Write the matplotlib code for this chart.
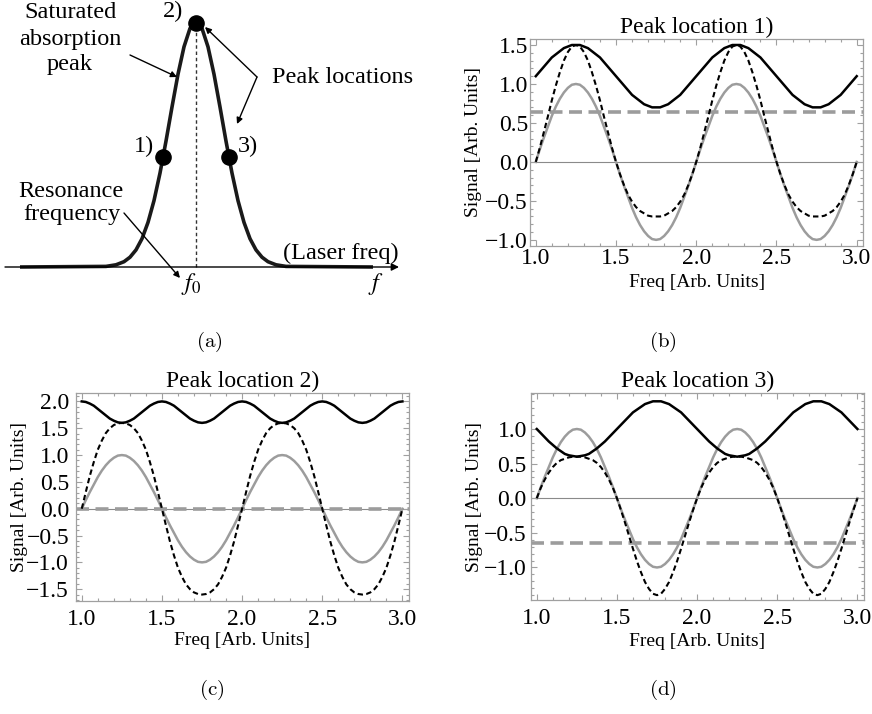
import matplotlib
matplotlib.use('Agg')
import matplotlib.pyplot as plt
from matplotlib.ticker import MultipleLocator, FixedLocator, FuncFormatter

plt.rcParams['font.family'] = ['Liberation Serif', 'DejaVu Serif']
plt.rcParams['mathtext.fontset'] = 'stix'

# ---------------- data ----------------
freq = [1.0, 1.025, 1.05, 1.075, 1.1, 1.125, 1.15, 1.175, 1.2, 1.225,
        1.25, 1.275, 1.3, 1.325, 1.35, 1.375, 1.4, 1.425, 1.45, 1.475,
        1.5, 1.525, 1.55, 1.575, 1.6, 1.625, 1.65, 1.675, 1.7, 1.725,
        1.75, 1.775, 1.8, 1.825, 1.85, 1.875, 1.9, 1.925, 1.95, 1.975,
        2.0, 2.025, 2.05, 2.075, 2.1, 2.125, 2.15, 2.175, 2.2, 2.225,
        2.25, 2.275, 2.3, 2.325, 2.35, 2.375, 2.4, 2.425, 2.45, 2.475,
        2.5, 2.525, 2.55, 2.575, 2.6, 2.625, 2.65, 2.675, 2.7, 2.725,
        2.75, 2.775, 2.8, 2.825, 2.85, 2.875, 2.9, 2.925, 2.95, 2.975, 3.0]

reference = [0.00, 0.16, 0.31, 0.45, 0.59, 0.71, 0.81, 0.89, 0.95, 0.99, 1.00,
             0.99, 0.95, 0.89, 0.81, 0.71, 0.59, 0.45, 0.31, 0.16, 0.00,
             -0.16, -0.31, -0.45, -0.59, -0.71, -0.81, -0.89, -0.95, -0.99, -1.00,
             -0.99, -0.95, -0.89, -0.81, -0.71, -0.59, -0.45, -0.31, -0.16, 0.00,
             0.16, 0.31, 0.45, 0.59, 0.71, 0.81, 0.89, 0.95, 0.99, 1.00,
             0.99, 0.95, 0.89, 0.81, 0.71, 0.59, 0.45, 0.31, 0.16, 0.00,
             -0.16, -0.31, -0.45, -0.59, -0.71, -0.81, -0.89, -0.95, -0.99, -1.00,
             -0.99, -0.95, -0.89, -0.81, -0.71, -0.59, -0.45, -0.31, -0.16, 0.00]

env_1 = [1.10, 1.16, 1.22, 1.28, 1.34, 1.38, 1.42, 1.46, 1.48, 1.50, 1.50,
         1.50, 1.48, 1.46, 1.42, 1.38, 1.34, 1.28, 1.22, 1.16, 1.10,
         1.04, 0.98, 0.92, 0.86, 0.82, 0.78, 0.74, 0.72, 0.70, 0.70,
         0.70, 0.72, 0.74, 0.78, 0.82, 0.86, 0.92, 0.98, 1.04, 1.10,
         1.16, 1.22, 1.28, 1.34, 1.38, 1.42, 1.46, 1.48, 1.50, 1.50,
         1.50, 1.48, 1.46, 1.42, 1.38, 1.34, 1.28, 1.22, 1.16, 1.10,
         1.04, 0.98, 0.92, 0.86, 0.82, 0.78, 0.74, 0.72, 0.70, 0.70,
         0.70, 0.72, 0.74, 0.78, 0.82, 0.86, 0.92, 0.98, 1.04, 1.10]
mod_1 = [0.00, 0.18, 0.38, 0.58, 0.79, 0.98, 1.15, 1.30, 1.41, 1.48, 1.50,
         1.48, 1.41, 1.30, 1.15, 0.98, 0.79, 0.58, 0.38, 0.18, 0.00,
         -0.16, -0.30, -0.42, -0.51, -0.58, -0.63, -0.66, -0.69, -0.70, -0.70,
         -0.70, -0.69, -0.66, -0.63, -0.58, -0.51, -0.42, -0.30, -0.16, 0.00,
         0.18, 0.38, 0.58, 0.79, 0.98, 1.15, 1.30, 1.41, 1.48, 1.50,
         1.48, 1.41, 1.30, 1.15, 0.98, 0.79, 0.58, 0.38, 0.18, 0.00,
         -0.16, -0.30, -0.42, -0.51, -0.58, -0.63, -0.66, -0.69, -0.70, -0.70,
         -0.70, -0.69, -0.66, -0.63, -0.58, -0.51, -0.42, -0.30, -0.16, 0.00]

env_2 = [2.00, 1.99, 1.96, 1.92, 1.86, 1.80, 1.74, 1.68, 1.64, 1.61, 1.60,
         1.61, 1.64, 1.68, 1.74, 1.80, 1.86, 1.92, 1.96, 1.99, 2.00,
         1.99, 1.96, 1.92, 1.86, 1.80, 1.74, 1.68, 1.64, 1.61, 1.60,
         1.61, 1.64, 1.68, 1.74, 1.80, 1.86, 1.92, 1.96, 1.99, 2.00,
         1.99, 1.96, 1.92, 1.86, 1.80, 1.74, 1.68, 1.64, 1.61, 1.60,
         1.61, 1.64, 1.68, 1.74, 1.80, 1.86, 1.92, 1.96, 1.99, 2.00,
         1.99, 1.96, 1.92, 1.86, 1.80, 1.74, 1.68, 1.64, 1.61, 1.60,
         1.61, 1.64, 1.68, 1.74, 1.80, 1.86, 1.92, 1.96, 1.99, 2.00]
mod_2 = [0.00, 0.31, 0.61, 0.87, 1.10, 1.27, 1.41, 1.50, 1.56, 1.59, 1.60,
         1.59, 1.56, 1.50, 1.41, 1.27, 1.10, 0.87, 0.61, 0.31, 0.00,
         -0.31, -0.61, -0.87, -1.10, -1.27, -1.41, -1.50, -1.56, -1.59, -1.60,
         -1.59, -1.56, -1.50, -1.41, -1.27, -1.10, -0.87, -0.61, -0.31, 0.00,
         0.31, 0.61, 0.87, 1.10, 1.27, 1.41, 1.50, 1.56, 1.59, 1.60,
         1.59, 1.56, 1.50, 1.41, 1.27, 1.10, 0.87, 0.61, 0.31, 0.00,
         -0.31, -0.61, -0.87, -1.10, -1.27, -1.41, -1.50, -1.56, -1.59, -1.60,
         -1.59, -1.56, -1.50, -1.41, -1.27, -1.10, -0.87, -0.61, -0.31, 0.00]

env_3 = [1.00, 0.94, 0.88, 0.82, 0.77, 0.72, 0.68, 0.64, 0.62, 0.61, 0.60,
         0.61, 0.62, 0.64, 0.68, 0.72, 0.77, 0.82, 0.88, 0.94, 1.00,
         1.06, 1.12, 1.18, 1.24, 1.28, 1.32, 1.36, 1.38, 1.40, 1.40,
         1.40, 1.38, 1.36, 1.32, 1.28, 1.24, 1.18, 1.12, 1.06, 1.00,
         0.94, 0.88, 0.82, 0.77, 0.72, 0.68, 0.64, 0.62, 0.61, 0.60,
         0.61, 0.62, 0.64, 0.68, 0.72, 0.77, 0.82, 0.88, 0.94, 1.00,
         1.06, 1.12, 1.18, 1.24, 1.28, 1.32, 1.36, 1.38, 1.40, 1.40,
         1.40, 1.38, 1.36, 1.32, 1.28, 1.24, 1.18, 1.12, 1.06, 1.00]
mod_3 = [0.00, 0.15, 0.27, 0.37, 0.45, 0.51, 0.55, 0.57, 0.59, 0.60, 0.60,
         0.60, 0.59, 0.57, 0.55, 0.51, 0.45, 0.37, 0.27, 0.15, 0.00,
         -0.17, -0.35, -0.54, -0.73, -0.91, -1.07, -1.21, -1.31, -1.38, -1.40,
         -1.38, -1.31, -1.21, -1.07, -0.91, -0.73, -0.54, -0.35, -0.17, 0.00,
         0.15, 0.27, 0.37, 0.45, 0.51, 0.55, 0.57, 0.59, 0.60, 0.60,
         0.60, 0.59, 0.57, 0.55, 0.51, 0.45, 0.37, 0.27, 0.15, 0.00,
         -0.17, -0.35, -0.54, -0.73, -0.91, -1.07, -1.21, -1.31, -1.38, -1.40,
         -1.38, -1.31, -1.21, -1.07, -0.91, -0.73, -0.54, -0.35, -0.17, 0.00]

dc_levels = [0.64, 0.00, -0.64]
titles = ['Peak location 1)', 'Peak location 2)', 'Peak location 3)']
captions = ['(a)', '(b)', '(c)', '(d)']
yticks_1 = [-1.0, -0.5, 0.0, 0.5, 1.0, 1.5]
yticks_2 = [-1.5, -1.0, -0.5, 0.0, 0.5, 1.0, 1.5, 2.0]
yticks_3 = [-1.0, -0.5, 0.0, 0.5, 1.0]

# schematic absorption peak (panel a), horizontal position and height
peak_x = [20, 106, 116, 124, 130, 136, 142, 148, 154, 160, 166, 172, 178, 184, 190,
          196, 202, 208, 214, 220, 226, 232, 238, 244, 250, 256, 262, 268, 276, 286, 373]
peak_h = [0, 0.6, 2.2, 5.3, 9.8, 17.1, 28.3, 44.6, 66.4, 93.9, 125.9, 160.0, 192.8, 220.2, 238.6,
          245, 238.6, 220.2, 192.8, 160.0, 125.9, 93.9, 66.4, 44.6, 28.3, 17.1, 9.8, 5.3, 2.2, 0.6, 0]
dot_x = [163, 196, 229]
dot_h = [110, 244, 110]
dot_labels = ['1)', '2)', '3)']

# ---------------- figure ----------------
W, H = 872, 714
fig = plt.figure(figsize=(W / 100, H / 100), dpi=100)


def fr(l, t, r, b):
    return [l / W, 1 - b / H, (r - l) / W, (b - t) / H]


# ---- panel (a)
axa = fig.add_axes([0, 1 - 300 / H, 436 / W, 300 / H])
axa.set_xlim(0, 436)
axa.set_ylim(-33, 267)
axa.axis('off')
BASE = 267  # pixel row of the baseline


def py(p):
    return BASE - p


axa.annotate('', xy=(399, 0), xytext=(5, 0),
             arrowprops=dict(arrowstyle='-|>', lw=1.0, color='k', mutation_scale=11,
                             shrinkA=0, shrinkB=0))
axa.plot([196, 196], [0, 242], color='#333333', lw=1.0, dashes=(2.5, 2.0))
axa.plot(peak_x, peak_h, color='#1a1a1a', lw=2.6, solid_capstyle='butt')
axa.scatter(dot_x, dot_h, s=120, color='k', zorder=5)

fs_a = 17.5
axa.text(70, py(18), 'Saturated', ha='center', va='baseline', fontsize=fs_a)
axa.text(70, py(45), 'absorption', ha='center', va='baseline', fontsize=fs_a)
axa.text(70, py(70), 'peak', ha='center', va='baseline', fontsize=fs_a)
axa.text(173, py(17), dot_labels[1], ha='center', va='baseline', fontsize=fs_a)
axa.text(144, py(152), dot_labels[0], ha='center', va='baseline', fontsize=fs_a)
axa.text(248, py(152), dot_labels[2], ha='center', va='baseline', fontsize=fs_a)
axa.text(272, py(83), 'Peak locations', ha='left', va='baseline', fontsize=fs_a)
axa.text(71, py(197), 'Resonance', ha='center', va='baseline', fontsize=fs_a)
axa.text(72, py(220), 'frequency', ha='center', va='baseline', fontsize=fs_a)
axa.text(341, py(259), '(Laser freq)', ha='center', va='baseline', fontsize=fs_a)
axa.text(191, py(290), r'$f_0$', ha='center', va='baseline', fontsize=fs_a)
axa.text(376, py(290), r'$f$', ha='center', va='baseline', fontsize=fs_a)

arrow_kw = dict(arrowstyle='-|>', lw=1.0, color='k', mutation_scale=9, shrinkA=0, shrinkB=0)
axa.annotate('', xy=(177, py(77)), xytext=(130, py(55)), arrowprops=arrow_kw)
axa.annotate('', xy=(205, py(27)), xytext=(257, py(77)), arrowprops=arrow_kw)
axa.annotate('', xy=(237, py(124)), xytext=(257, py(77)), arrowprops=arrow_kw)
axa.annotate('', xy=(180, py(278)), xytext=(124, py(213)), arrowprops=arrow_kw)

# ---- signal panels
FRAME = '#a0a0a0'
GRAY = '#9c9c9c'


def fmt(v, _):
    if abs(v) < 1e-9:
        return '0.0'
    return f'{v:.1f}'.replace('-', '\u2212')


def signal_panel(rect, env, mod, dc, ylim, yticks, title, xpad, ypad, xlab_y):
    ax = fig.add_axes(rect)
    ax.axhline(0, color='#8a8a8a', lw=0.8, zorder=1)
    ax.axhline(dc, color=GRAY, lw=2.6, dashes=(3.6, 1.8), zorder=2)
    ax.plot(freq, reference, color=GRAY, lw=1.8, zorder=3)
    ax.plot(freq, mod, color='k', lw=1.5, dashes=(2.6, 1.6), zorder=4)
    ax.plot(freq, env, color='k', lw=1.8, zorder=5)
    ax.set_xlim(0.964, 3.041)
    ax.set_ylim(*ylim)
    ax.xaxis.set_major_locator(MultipleLocator(0.5))
    ax.xaxis.set_minor_locator(MultipleLocator(0.1))
    ax.yaxis.set_major_locator(FixedLocator(yticks))
    ax.yaxis.set_minor_locator(MultipleLocator(0.1))
    ax.xaxis.set_major_formatter(FuncFormatter(fmt))
    ax.yaxis.set_major_formatter(FuncFormatter(fmt))
    ax.tick_params(which='both', direction='in', top=True, right=True,
                   color=FRAME, width=0.8, labelsize=17)
    ax.tick_params(axis='x', which='both', pad=xpad)
    ax.tick_params(axis='y', which='both', pad=ypad)
    ax.tick_params(which='major', length=4.5)
    ax.tick_params(which='minor', length=2.3)
    for s in ax.spines.values():
        s.set_color(FRAME)
        s.set_linewidth(0.9)
    ax.set_title(title, fontsize=17, pad=4.5)
    ax.set_xlabel('Freq [Arb. Units]', fontsize=14)
    ax.set_ylabel('Signal [Arb. Units]', fontsize=14)
    ax.xaxis.set_label_coords(0.5, xlab_y)
    ax.yaxis.set_label_coords(-0.145, 0.5)
    return ax


signal_panel(fr(530, 39, 863.3, 245.7), env_1, mod_1, dc_levels[0], (-1.075, 1.577),
             yticks_1, titles[0], 1.5, 1.5, -0.135)
signal_panel(fr(76, 393, 409, 601), env_2, mod_2, dc_levels[1], (-1.72, 2.157),
             yticks_2, titles[1], 6.0, 5.0, -0.15)
signal_panel(fr(531, 393, 864, 600), env_3, mod_3, dc_levels[2], (-1.47, 1.52),
             yticks_3, titles[2], 6.0, 3.0, -0.16)

# captions
cap_pos = [(209, 342), (663, 342), (212, 690), (663, 690)]
for (cx, cy), c in zip(cap_pos, captions):
    fig.text(cx / W, 1 - cy / H, r'$\mathrm{' + c + '}$', ha='center', va='center',
             fontsize=15, math_fontfamily='cm')

fig.savefig('out.png', dpi=100)
